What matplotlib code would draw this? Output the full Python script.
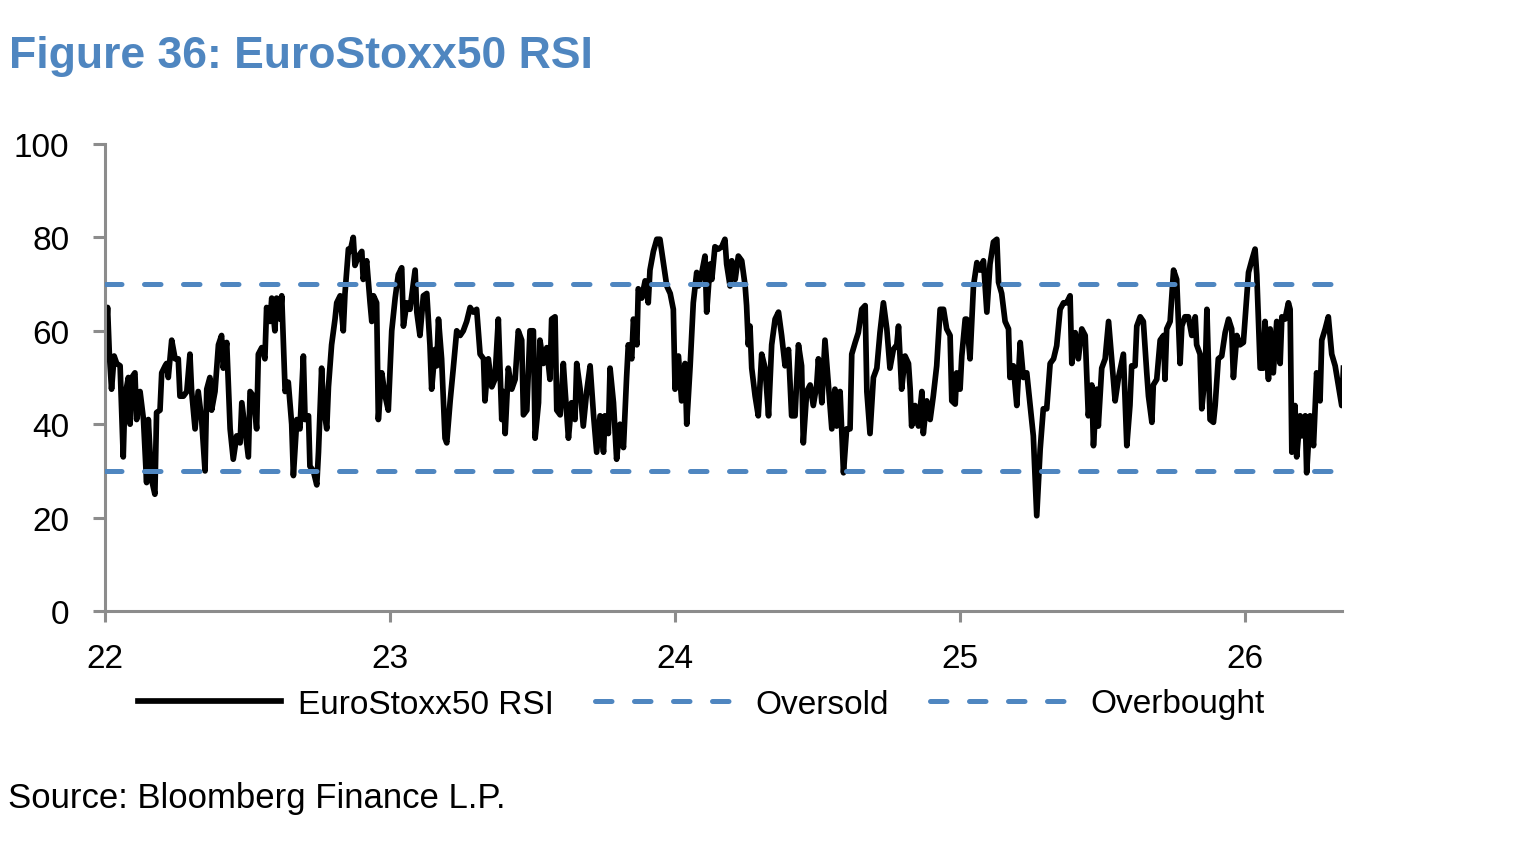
import matplotlib
matplotlib.use("Agg")
import matplotlib.pyplot as plt

# RSI readings, x = years since the start of 2022
t = [
    0.000, 0.009, 0.015, 0.023, 0.032, 0.041, 0.053, 0.064, 0.070, 0.082,
    0.088, 0.094, 0.105, 0.111, 0.123, 0.135, 0.140, 0.146, 0.152, 0.158,
    0.164, 0.175, 0.181, 0.193, 0.199, 0.211, 0.216, 0.222, 0.234, 0.246,
    0.257, 0.263, 0.275, 0.287, 0.298, 0.304, 0.316, 0.327, 0.339, 0.351,
    0.357, 0.368, 0.374, 0.386, 0.398, 0.409, 0.415, 0.427, 0.439, 0.450,
    0.462, 0.474, 0.480, 0.491, 0.503, 0.509, 0.521, 0.532, 0.538, 0.550,
    0.561, 0.567, 0.579, 0.585, 0.596, 0.602, 0.614, 0.620, 0.632, 0.643,
    0.655, 0.661, 0.673, 0.684,
    0.696, 0.702, 0.714, 0.719, 0.731, 0.743, 0.749, 0.760, 0.766, 0.778,
    0.784, 0.795, 0.807, 0.813, 0.825, 0.836, 0.842, 0.854, 0.860, 0.871,
    0.877, 0.889, 0.901, 0.906, 0.918, 0.930, 0.936, 0.942, 0.953, 0.959,
    0.971, 0.983, 0.994, 1.006, 1.018, 1.029, 1.041, 1.047, 1.059, 1.070,
    1.088, 1.094, 1.105, 1.117, 1.129, 1.140, 1.146, 1.158, 1.164, 1.170,
    1.181, 1.193, 1.199, 1.211, 1.222, 1.234, 1.246, 1.257, 1.269, 1.281,
    1.292, 1.304, 1.316, 1.328, 1.333, 1.345, 1.357, 1.368, 1.380, 1.392,
    1.398,
    1.404, 1.415, 1.427, 1.439, 1.450, 1.462, 1.468, 1.480, 1.491, 1.503,
    1.509, 1.521, 1.526, 1.538, 1.550, 1.561, 1.567, 1.579, 1.585, 1.597,
    1.608, 1.614, 1.626, 1.637, 1.649, 1.655, 1.667, 1.678, 1.690, 1.702,
    1.714, 1.725, 1.737, 1.749, 1.754, 1.766, 1.772, 1.784, 1.795, 1.807,
    1.819, 1.830, 1.836, 1.848, 1.854, 1.866, 1.871, 1.883, 1.895, 1.906,
    1.912, 1.924, 1.936, 1.947, 1.959, 1.971, 1.983, 1.994, 2.000, 2.012,
    2.023, 2.035, 2.041, 2.053, 2.064, 2.076, 2.082, 2.094, 2.105, 2.111,
    2.123,
    2.129, 2.140, 2.152, 2.164, 2.175, 2.181, 2.193, 2.199, 2.211, 2.222,
    2.234, 2.246, 2.251, 2.257, 2.263, 2.269, 2.281, 2.292, 2.304, 2.316,
    2.328, 2.339, 2.351, 2.363, 2.374, 2.386, 2.398, 2.409, 2.421, 2.433,
    2.444, 2.450, 2.462, 2.474, 2.485, 2.497, 2.503, 2.515, 2.526, 2.538,
    2.550, 2.561, 2.567, 2.579, 2.591, 2.602, 2.614, 2.620, 2.632, 2.643,
    2.655, 2.667, 2.673, 2.684, 2.696, 2.708, 2.719, 2.731, 2.743, 2.754,
    2.766, 2.778, 2.784, 2.795, 2.807, 2.819, 2.825, 2.830,
    2.842, 2.854, 2.866, 2.871, 2.883, 2.895, 2.906, 2.918, 2.930, 2.942,
    2.953, 2.965, 2.971, 2.983, 2.988, 3.000, 3.006, 3.018, 3.023, 3.035,
    3.047, 3.059, 3.070, 3.082, 3.094, 3.105, 3.117, 3.129, 3.135, 3.146,
    3.158, 3.170, 3.175, 3.187, 3.199, 3.211, 3.222, 3.234, 3.246, 3.257,
    3.269, 3.281, 3.292, 3.304, 3.316, 3.328, 3.339, 3.351, 3.363, 3.374,
    3.386, 3.392, 3.404, 3.415, 3.427, 3.439, 3.450, 3.462, 3.468, 3.480,
    3.485, 3.497, 3.509, 3.521, 3.532, 3.544, 3.556,
    3.573, 3.585, 3.596, 3.602, 3.614, 3.620, 3.632, 3.643, 3.655, 3.661,
    3.673, 3.678, 3.690, 3.702, 3.714, 3.719, 3.725, 3.737, 3.749, 3.760,
    3.772, 3.778, 3.789, 3.801, 3.813, 3.825, 3.830, 3.842, 3.848, 3.860,
    3.866, 3.877, 3.889, 3.895, 3.906, 3.918, 3.930, 3.942, 3.953, 3.959,
    3.971, 3.982, 3.994, 4.000, 4.012, 4.023, 4.035, 4.041, 4.053, 4.064,
    4.070, 4.082, 4.088, 4.099, 4.111, 4.123, 4.129, 4.140, 4.152, 4.158,
    4.164, 4.175, 4.181, 4.193, 4.199, 4.211, 4.216, 4.228, 4.240, 4.251,
    4.263, 4.269, 4.281, 4.292, 4.304, 4.316, 4.327, 4.339, 4.345,
]

rsi = [
    56, 65, 55.4, 47.5, 54.6, 53, 52.5, 33, 46, 50,
    40, 50, 51, 41, 47, 41, 35, 27.5, 41, 34,
    28, 25, 42.5, 43, 51, 52.5, 53, 50, 58, 54,
    54, 46, 46, 47, 55, 47, 39, 47, 41, 30,
    47.5, 50, 43, 47, 57, 59, 52, 57.5, 39, 32.5,
    37.5, 36, 44.6, 39, 33, 47, 46, 39, 55, 56.4,
    54, 65, 62, 67, 60, 67, 62.5, 67.5, 47, 49,
    40, 29, 41, 39,
    54.6, 41, 41.8, 31, 30, 27, 34, 52, 44, 39,
    48, 57, 62.5, 66, 67.5, 60, 68, 77.5, 77, 80,
    74, 76, 77, 71, 75, 66, 62, 67.5, 66, 41,
    51, 46, 43, 60, 67, 72, 73.5, 61, 66, 64.6,
    73, 64, 59, 67.5, 68, 57, 47.5, 56, 52.5, 62.5,
    54, 37, 36, 45, 52, 60, 59, 60, 62, 65,
    64, 64.6, 55, 54, 45, 54, 48, 49.6, 62.5, 41,
    47,
    38, 52, 47.5, 49.6, 60, 58, 42, 43, 60, 60,
    37, 44.6, 58, 53, 56.4, 49.6, 62.5, 63, 43, 42,
    53, 47.5, 37, 44.6, 41, 53, 47.5, 39.6, 47, 52.5,
    42, 34, 41.8, 34, 41.8, 38, 52, 44.6, 32.5, 40,
    35, 50, 57, 54, 62.5, 57, 69, 67, 70.7, 66,
    73, 77, 79.6, 79.6, 74.6, 69.6, 68, 64.6, 47.5, 54.6,
    45, 53, 40, 52.5, 66, 72.5, 69.6, 72.5, 76, 64,
    74.3,
    71, 78, 77.5, 78, 79.6, 74.3, 69.6, 75, 71, 76,
    75, 69.6, 65.4, 57, 61, 52, 46, 41.8, 55, 52,
    41.8, 57, 62.5, 64, 59, 52.5, 56, 41.8, 41.8, 57,
    52.5, 36, 47, 48.4, 44, 48.4, 54, 44.6, 58, 48.4,
    39, 47.5, 39.6, 47, 29.6, 39, 39, 55, 57.5, 59.6,
    64.6, 65.4, 47, 38, 50, 52, 59.6, 66, 60.4, 52,
    56, 57, 61, 47.5, 54.6, 53, 47.5, 39.6,
    44, 39.6, 47, 38, 45, 41, 46, 52.5, 64.6, 64.6,
    60.4, 59, 45, 44.3, 51, 47.5, 54.6, 62.5, 62.5, 54,
    69.6, 74.6, 73, 75, 64, 74.3, 79, 79.6, 70.4, 68,
    62, 60.4, 50, 52.5, 44, 57.5, 50, 51, 44, 37.5,
    20.4, 34.6, 43.3, 43.3, 53, 54, 56.8, 64.6, 66, 66,
    67.5, 53, 59.6, 54, 60.4, 59, 41.8, 48.4, 35.4, 47.5,
    39.6, 52, 54, 62, 54, 45, 50,
    55, 35.4, 44, 52.5, 52.5, 61, 63, 62, 51, 46,
    40.4, 48.4, 49.6, 58, 59, 49.6, 60.4, 62, 73, 71,
    53, 61, 63, 63, 59, 63, 57, 55, 43.3, 51,
    64.6, 41, 40.4, 44, 54, 54.6, 59.6, 62.5, 60.4, 50,
    59, 57, 57.5, 62.5, 72.5, 75, 77.5, 72, 52, 52,
    62, 49.6, 60.4, 51, 62, 53, 63, 62.5, 66, 64.6,
    34, 44, 33, 41.8, 37.5, 41.8, 29.6, 41.8, 35.4, 51,
    45, 58, 60.4, 63, 55, 52.5, 48.4, 44, 52,
]

oversold = 30
overbought = 70
start_year = 2022
tick_years = [2022, 2023, 2024, 2025, 2026]
tick_labels = ["22", "23", "24", "25", "26"]

plt.rcParams["font.family"] = ["Liberation Sans", "DejaVu Sans"]

blue = "#4f86c0"
grey = "#8c8c8c"

fig = plt.figure(figsize=(15.36, 8.45), dpi=100)
ax = fig.add_axes([105 / 1536, 1 - 612 / 845, 1237 / 1536, 467 / 845])

x = [start_year + v for v in t]
ax.plot(x, rsi, color="black", lw=4.1, solid_joinstyle="round",
        label="EuroStoxx50 RSI", zorder=2)
ax.axhline(oversold, color=blue, lw=3.6, dashes=(3.3, 4.5),
           dash_capstyle="round", label="Oversold", zorder=3)
ax.axhline(overbought, color=blue, lw=3.6, dashes=(3.3, 4.5),
           dash_capstyle="round", label="Overbought", zorder=3)

ax.set_xlim(start_year, start_year + 4.34)
ax.set_ylim(0, 100)
ax.set_yticks(range(0, 101, 20))
ax.set_xticks(tick_years)
ax.set_xticklabels(tick_labels)

for side in ["top", "right"]:
    ax.spines[side].set_visible(False)
for side in ["left", "bottom"]:
    ax.spines[side].set_color(grey)
    ax.spines[side].set_linewidth(2.2)

ax.tick_params(axis="y", length=8.6, width=2.2, color=grey, pad=17,
               labelsize=24)
ax.tick_params(axis="x", length=8, width=2.2, color=grey, pad=15,
               labelsize=24)

fig.legend(loc="center", bbox_to_anchor=(701 / 1536, 1 - 705 / 845), ncol=3,
           frameon=False, fontsize=24, handlelength=4.3,
           handletextpad=0.5, columnspacing=1.25)

fig.text(9 / 1536, 1 - 68 / 845, "Figure 36: EuroStoxx50 RSI",
         fontsize=32, fontweight="bold", color=blue, va="baseline")
fig.text(8 / 1536, 1 - 808 / 845, "Source: Bloomberg Finance L.P.",
         fontsize=25, va="baseline")

fig.savefig("out.png", dpi=100)
